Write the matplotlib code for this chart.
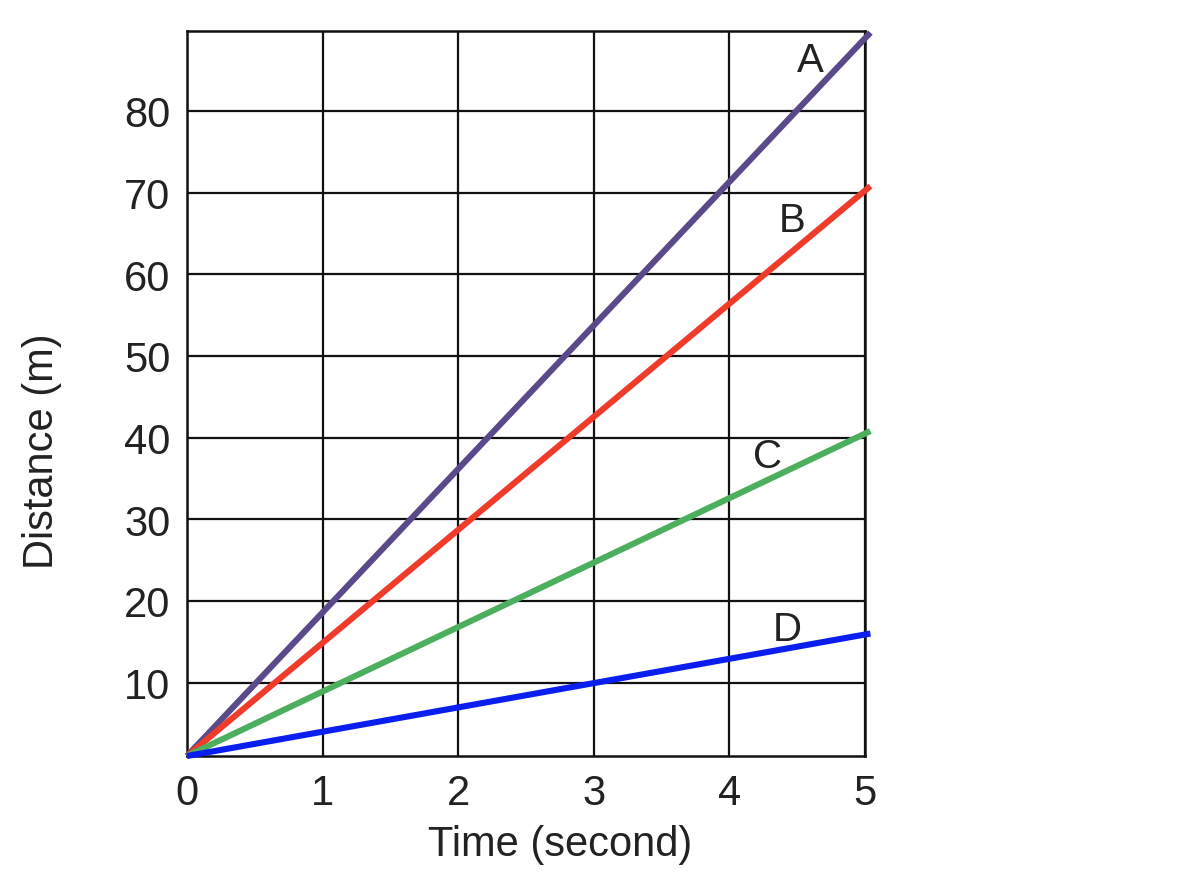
import matplotlib
matplotlib.use("Agg")
import matplotlib.pyplot as plt

# Data
times = [0, 5.04]
dist_A = [1.0, 89.6]
dist_B = [1.0, 70.8]
dist_C = [1.0, 40.8]
dist_D = [1.0, 16.0]
series_names = ["A", "B", "C", "D"]
label_pos_x = [4.6, 4.46, 4.28, 4.43]
label_pos_y = [86.3, 66.7, 37.8, 16.6]
x_ticks = [0, 1, 2, 3, 4, 5]
y_ticks = [10, 20, 30, 40, 50, 60, 70, 80]

plt.rcParams['font.family'] = ['Liberation Sans', 'DejaVu Sans']

fig = plt.figure(figsize=(11.78, 8.78), dpi=100)
ax = fig.add_axes([0.1587, 0.1378, 0.7343 - 0.1587, 0.9636 - 0.1378])

colors = ["#5a4a8a", "#f03a2a", "#4caf5e", "#0a1ef0"]
series = [dist_A, dist_B, dist_C, dist_D]
for s, c in zip(series, colors):
    ax.plot(times, s, color=c, lw=4.4, clip_on=False, solid_capstyle='butt', zorder=3)

for name, lx, ly in zip(series_names, label_pos_x, label_pos_y):
    ax.text(lx, ly, name, fontsize=29, color="#222222", ha='center', va='center', zorder=4)

ax.set_xlim(0, 5)
ax.set_ylim(1, 89.8)
ax.set_xticks(x_ticks)
ax.set_yticks(y_ticks)
ax.grid(True, color="#111111", lw=1.6, zorder=1)
for sp in ax.spines.values():
    sp.set_color("#111111")
    sp.set_linewidth(1.8)
ax.tick_params(length=0, labelsize=30, labelcolor="#222222")
ax.tick_params(axis='x', pad=12)
ax.tick_params(axis='y', pad=12)
ax.set_xlabel("Time (second)", fontsize=30, color="#222222", va='center')
ax.set_ylabel("Distance (m)", fontsize=30, color="#222222", va='center')
ax.xaxis.set_label_coords(0.55, -0.121)
ax.yaxis.set_label_coords(-0.214, 0.422)

fig.savefig("out.png", dpi=100, facecolor="white")
